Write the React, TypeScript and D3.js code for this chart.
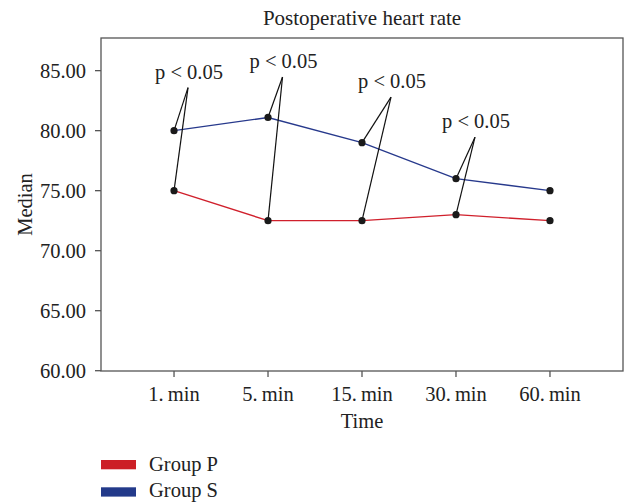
import React from "react";
import * as d3 from "d3";

const categories = ["1. min", "5. min", "15. min", "30. min", "60. min"];
const groupP = [75, 72.5, 72.5, 73, 72.5];
const groupS = [80, 81.1, 79, 76, 75];
const yTicks = [60, 65, 70, 75, 80, 85];
const annotated = [0, 1, 2, 3];
const annotationText = "p < 0.05";
const seriesNames = ["Group P", "Group S"];

const W = 625;
const H = 502;
const M = { left: 101, right: 623, top: 38, bottom: 371 };
const apexDy = [-43, -40.5, -45.5, -41.5];
const apexDx = [14, 14.5, 29, 19];
const FONT = "'Liberation Serif', 'DejaVu Serif', serif";
const FS = 20.5;
const RED = "#d0202c";
const BLUE = "#27398c";
const LEG_RED = "#cc1f26";
const LEG_BLUE = "#233a8a";
const AXIS = "#555";
const TXT = "#222";

export default function App() {
  const x = d3.scalePoint<string>().domain(categories).range([M.left, M.right]).padding(0.777);
  const y = d3.scaleLinear().domain([60, 87.72]).range([M.bottom - 0.3, M.top]);
  const line = d3
    .line<number>()
    .x((_, i) => x(categories[i]) as number)
    .y((d) => y(d));

  return (
    <svg width={W} height={H} style={{ position: "absolute", left: 0, top: 0, background: "#fff" }} fontFamily={FONT}>
      <rect x={0} y={0} width={W} height={H} fill="#fff" />
      <text x={(M.left + M.right) / 2} y={25} textAnchor="middle" fontSize={21} fill={TXT}>
        Postoperative heart rate
      </text>
      {/* frame */}
      <rect x={M.left} y={M.top} width={M.right - M.left} height={M.bottom - M.top} fill="none" stroke={AXIS} strokeWidth={1.3} />
      {/* y ticks */}
      {yTicks.map((t) => (
        <g key={t}>
          <line x1={M.left - 6} x2={M.left} y1={y(t)} y2={y(t)} stroke={AXIS} strokeWidth={1.3} />
          <text x={M.left - 15} y={y(t) + 7} textAnchor="end" fontSize={FS} fill={TXT}>
            {t.toFixed(2)}
          </text>
        </g>
      ))}
      {/* x ticks */}
      {categories.map((c) => (
        <g key={c}>
          <line x1={x(c)} x2={x(c)} y1={M.bottom} y2={M.bottom + 6} stroke={AXIS} strokeWidth={1.3} />
          <text x={x(c)} y={401} textAnchor="middle" fontSize={FS} fill={TXT}>
            {c.replace(" ", "\u2009")}
          </text>
        </g>
      ))}
      <text x={(M.left + M.right) / 2} y={428} textAnchor="middle" fontSize={FS} fill={TXT}>
        Time
      </text>
      <text
        transform={`translate(32, ${(M.top + M.bottom) / 2}) rotate(-90)`}
        textAnchor="middle"
        fontSize={FS}
        fill={TXT}
      >
        Median
      </text>
      {/* lines */}
      <path d={line(groupS) || ""} fill="none" stroke={BLUE} strokeWidth={1.4} />
      <path d={line(groupP) || ""} fill="none" stroke={RED} strokeWidth={1.4} />
      {/* annotations */}
      {annotated.map((i, k) => {
        const cx = x(categories[i]) as number;
        const ax = cx + apexDx[k];
        const ay = y(groupS[i]) + apexDy[k];
        return (
          <g key={i}>
            <line x1={ax} y1={ay} x2={cx} y2={y(groupS[i])} stroke="#111" strokeWidth={1.2} />
            <line x1={ax} y1={ay} x2={cx} y2={y(groupP[i])} stroke="#111" strokeWidth={1.2} />
            <text x={ax + 1} y={ay - 9} textAnchor="middle" fontSize={FS} fill={TXT}>
              {annotationText}
            </text>
          </g>
        );
      })}
      {/* dots */}
      {[groupP, groupS].map((s, si) =>
        s.map((v, i) => <circle key={`${si}-${i}`} cx={x(categories[i])} cy={y(v)} r={3.6} fill="#1a1a1a" />)
      )}
      {/* legend */}
      {seriesNames.map((n, i) => (
        <g key={n}>
          <rect x={101} y={460 + i * 27.3} width={35} height={9.3} fill={i === 0 ? LEG_RED : LEG_BLUE} />
          <text x={149} y={471 + i * 26} fontSize={FS} fill={TXT}>
            {n}
          </text>
        </g>
      ))}
    </svg>
  );
}
